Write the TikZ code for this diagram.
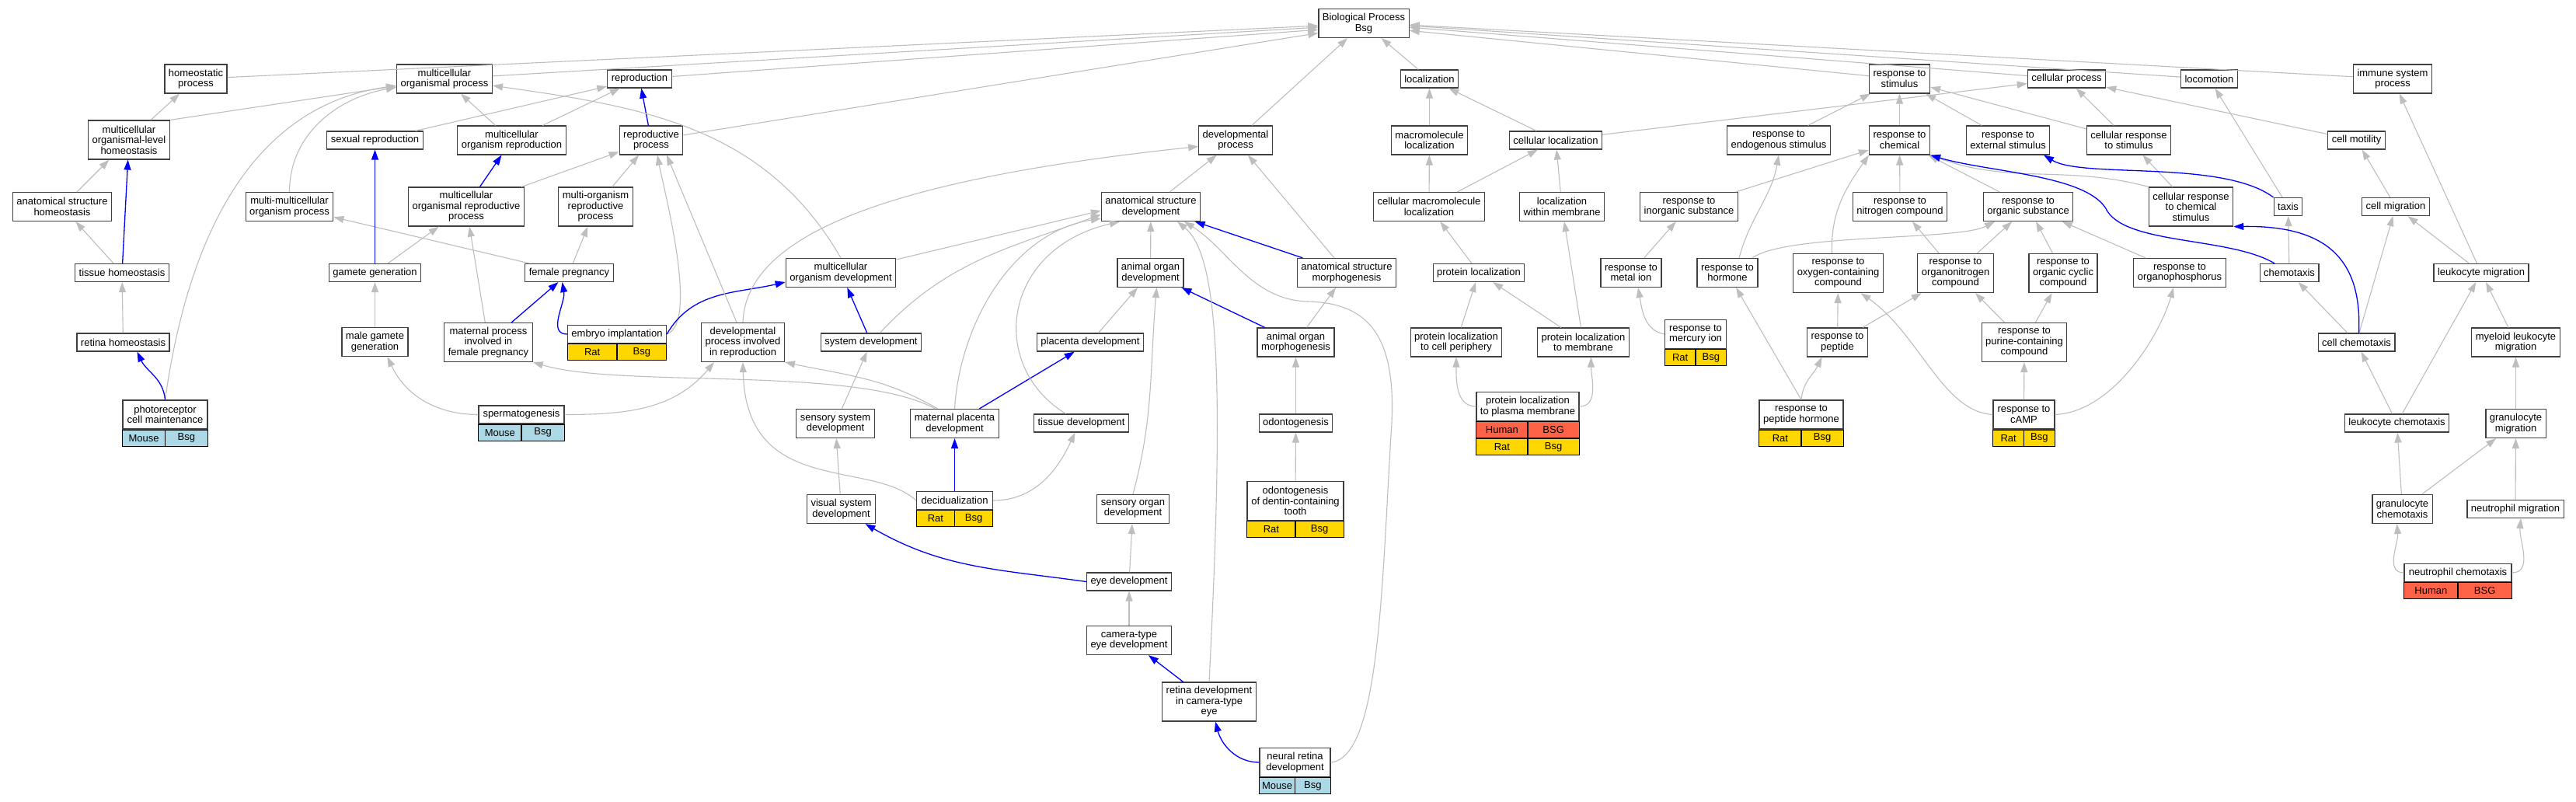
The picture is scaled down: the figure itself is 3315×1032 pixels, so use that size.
\documentclass[tikz,border=0pt]{standalone}
\usepackage{fontspec}
\setmainfont{Liberation Sans}
\usepackage{tikz}
\usetikzlibrary{arrows.meta}
\definecolor{edgegray}{RGB}{190,190,190}
\definecolor{boxgray}{RGB}{64,64,64}
\definecolor{mouseblue}{RGB}{173,216,230}
\definecolor{ratgold}{RGB}{255,215,0}
\definecolor{humanred}{RGB}{255,99,71}
\newcommand{\gofont}{\fontsize{13}{13.5}\selectfont}
% species/gene row under an annotated term
\newcommand{\spcells}[5]{%
  \node[cell, fill=#3, minimum width=#2/2, anchor=north west] (#1l) at (#1.south west) {#4};
  \node[cell, fill=#3, minimum width=#2/2, anchor=north east] (#1r) at (#1.south east) {#5};}

\begin{document}
\begin{tikzpicture}[x=1pt, y=-1pt,
  box/.style={draw=boxgray, line width=1.2pt, fill=white, align=center, inner xsep=5pt, inner ysep=2pt, minimum height=23pt, font=\gofont},
  two/.style={minimum height=37pt},
  three/.style={minimum height=50pt},
  cell/.style={draw=black, line width=1pt, minimum height=21pt, inner sep=0pt, font=\gofont},
  isa/.style={draw=edgegray, line width=1.1pt, -{Triangle[length=13pt,width=9pt]}},
  blueisa/.style={isa, draw=blue, line width=1.3pt}]
\path[use as bounding box, fill=white] (0,0) rectangle (3315,1032);
% Root
\node[box,two] (bp) at (1755,30) {Biological Process\\Bsg};
% Level 1
\node[box,two] (hp) at (252,101.5) {homeostatic\\process};
\node[box,two] (mop) at (572,101.5) {multicellular\\organismal process};
\node[box] (repro) at (823,101.5) {reproduction};
\node[box] (loc) at (1839.5,101.5) {localization};
\node[box,two] (rts) at (2444.5,101.5) {response to\\stimulus};
\node[box] (cp) at (2659.5,101.5) {cellular process};
\node[box] (locom) at (2843,101.5) {locomotion};
\node[box,two] (isp) at (3079,101.5) {immune system\\process};
% Level 2
\node[box,three] (molh) at (166,180) {multicellular\\organismal-level\\homeostasis};
\node[box] (sexrep) at (482.5,180.5) {sexual reproduction};
\node[box,two] (morep) at (658.5,180.5) {multicellular\\organism reproduction};
\node[box,two] (rp) at (838,180.5) {reproductive\\process};
\node[box,two] (dp) at (1590,180.5) {developmental\\process};
\node[box,two] (mloc) at (1839.5,180.5) {macromolecule\\localization};
\node[box] (cloc) at (2002,180.5) {cellular localization};
\node[box,two] (rendo) at (2289,180.5) {response to\\endogenous stimulus};
\node[box,two] (rchem) at (2444.5,180.5) {response to\\chemical};
\node[box,two] (rext) at (2584,180.5) {response to\\external stimulus};
\node[box,two] (crs) at (2739.5,180.5) {cellular response\\to stimulus};
\node[box] (cmot) at (3032.5,180.5) {cell motility};
% Level 3
\node[box,two] (ash) at (80,266) {anatomical structure\\homeostasis};
\node[box,two] (mmop) at (372.5,266) {multi-multicellular\\organism process};
\node[box,three] (morp) at (600,266) {multicellular\\organismal reproductive\\process};
\node[box,three] (mrp) at (766.5,266) {multi-organism\\reproductive\\process};
\node[box,two] (asd) at (1481,266) {anatomical structure\\development};
\node[box,two] (cmloc) at (1839,266) {cellular macromolecule\\localization};
\node[box,two] (lwm) at (2010,266) {localization\\within membrane};
\node[box,two] (ris) at (2173.5,266) {response to\\inorganic substance};
\node[box,two] (rnc) at (2445,266) {response to\\nitrogen compound};
\node[box,two] (ros) at (2610,266) {response to\\organic substance};
\node[box,three] (crcs) at (2819.5,266) {cellular response\\to chemical\\stimulus};
\node[box] (taxis) at (2944.5,266) {taxis};
\node[box] (cmig) at (3083,266) {cell migration};
% Level 4
\node[box] (th) at (157,351) {tissue homeostasis};
\node[box] (gg) at (482.5,351) {gamete generation};
\node[box] (fp) at (732.5,351) {female pregnancy};
\node[box,two] (mod) at (1082,351) {multicellular\\organism development};
\node[box,two] (aod) at (1480.5,351) {animal organ\\development};
\node[box,two] (asm) at (1733,351) {anatomical structure\\morphogenesis};
\node[box] (pl) at (1903,351) {protein localization};
\node[box,two] (rmi) at (2099,351) {response to\\metal ion};
\node[box,two] (rh) at (2223,351) {response to\\hormone};
\node[box,three] (roxy) at (2365.5,351.5) {response to\\oxygen-containing\\compound};
\node[box,three] (ronc) at (2516.5,351.5) {response to\\organonitrogen\\compound};
\node[box,three] (rocc) at (2655,351.5) {response to\\organic cyclic\\compound};
\node[box,two] (roph) at (2805,351) {response to\\organophosphorus};
\node[box] (chemo) at (2946,351) {chemotaxis};
\node[box] (lmig) at (3193,351) {leukocyte migration};
% Level 5
\node[box] (rhomeo) at (158.5,440.5) {retina homeostasis};
\node[box,two] (mgg) at (482.5,440) {male gamete\\generation};
\node[box,three] (mpfp) at (628.5,440.5) {maternal process\\involved in\\female pregnancy};
\node[box, minimum width=127] (emb) at (794,430) {embryo implantation};
\spcells{emb}{127}{ratgold}{Rat}{Bsg}
\node[box,three] (dpir) at (956,440.5) {developmental\\process involved\\in reproduction};
\node[box] (sd) at (1121,440.5) {system development};
\node[box] (pd) at (1403,440.5) {placenta development};
\node[box,two] (aom) at (1667.5,440.5) {animal organ\\morphogenesis};
\node[box,two] (ptcp) at (1874,440.5) {protein localization\\to cell periphery};
\node[box,two] (ptm) at (2037.5,440.5) {protein localization\\to membrane};
\node[box,two, minimum width=79] (rmerc) at (2182,430) {response to\\mercury ion};
\spcells{rmerc}{79}{ratgold}{Rat}{Bsg}
\node[box,two] (rpep) at (2364.5,440.5) {response to\\peptide};
\node[box,three] (rpur) at (2605,440.5) {response to\\purine-containing\\compound};
\node[box] (cc) at (3032.5,440.5) {cell chemotaxis};
\node[box,two] (mlm) at (3237.5,440.5) {myeloid leukocyte\\migration};
% Level 6
\node[box,two, minimum width=109] (prm) at (212.5,533.5) {photoreceptor\\cell maintenance};
\spcells{prm}{109}{mouseblue}{Mouse}{Bsg}
\node[box, minimum width=110] (sperm) at (671,533.5) {spermatogenesis};
\spcells{sperm}{110}{mouseblue}{Mouse}{Bsg}
\node[box,two] (ssd) at (1075,545) {sensory system\\development};
\node[box,two] (mpd) at (1228.5,545) {maternal placenta\\development};
\node[box] (td) at (1391.5,544.5) {tissue development};
\node[box] (odonto) at (1667.5,544.5) {odontogenesis};
\node[box,two, minimum width=132] (plpm) at (1966,523) {protein localization\\to plasma membrane};
\spcells{plpm}{132}{humanred}{Human}{BSG}
\node[cell, fill=ratgold, minimum width=66, anchor=north west] (plpmrat) at (plpml.south west) {Rat};
\node[cell, fill=ratgold, minimum width=66, anchor=north east] (plpmbsg) at (plpmr.south east) {Bsg};
\node[box,two, minimum width=108] (rph) at (2318,533.5) {response to\\peptide hormone};
\spcells{rph}{108}{ratgold}{Rat}{Bsg}
\node[box,two, minimum width=79] (camp) at (2604.5,533.5) {response to\\cAMP};
\spcells{camp}{79}{ratgold}{Rat}{Bsg}
\node[box] (lchem) at (3084.5,544.5) {leukocyte chemotaxis};
\node[box,two] (gmig) at (3237.5,545) {granulocyte\\migration};
% Level 7 and below
\node[box,two] (vsd) at (1082.5,655) {visual system\\development};
\node[box, minimum width=98] (decid) at (1228.5,644) {decidualization};
\spcells{decid}{98}{ratgold}{Rat}{Bsg}
\node[box,two] (sod) at (1458,655) {sensory organ\\development};
\node[box,three, minimum width=124] (odt) at (1667,644.5) {odontogenesis\\of dentin-containing\\tooth};
\spcells{odt}{124}{ratgold}{Rat}{Bsg}
\node[box,two] (gchem) at (3091.5,655) {granulocyte\\chemotaxis};
\node[box] (nmig) at (3237,655) {neutrophil migration};
\node[box, minimum width=138] (nchem) at (3163,737) {neutrophil chemotaxis};
\spcells{nchem}{138}{humanred}{Human}{BSG}
\node[box] (eye) at (1453,748.5) {eye development};
\node[box,two] (cam) at (1453,824) {camera-type\\eye development};
\node[box,three] (rdev) at (1556,903) {retina development\\in camera-type\\eye};
\node[box,two, minimum width=91] (nrd) at (1666.5,981) {neural retina\\development};
\spcells{nrd}{91}{mouseblue}{Mouse}{Bsg}

% Straight is_a links
\foreach \ch/\pa in {hp/bp.183, mop/bp.185, repro/bp.188, rp/bp.192, dp/bp, loc/bp,
    rts/bp.351, cp/bp.355, locom/bp.357, isp/bp.358, molh/hp, sexrep/repro, morep/repro,
    morep/mop, ash/molh, th/ash, rhomeo/th, morp/rp, mrp/rp, gg/morp, mpfp/morp, fp/mmop,
    fp/mrp, mgg/gg, aod/asd, asd/dp, asm/dp, ssd/sd, vsd/ssd, eye/sod, cam/eye, pd/aod,
    aom/asm, odonto/aom, odt/odonto, mloc/loc, cloc/loc, cmloc/mloc, cmloc/cloc, lwm/cloc,
    cloc/cp, pl/cmloc, ptcp/pl, ptm/pl, ptm/lwm, rendo/rts, rchem/rts, rext/rts, crs/rts,
    crs/cp, ris/rchem, rnc/rchem, ros/rchem, crcs/crs, taxis/locom, cmot/cp, cmig/cmot,
    lmig/isp, cc/cmig, lmig/cmig, chemo/taxis, cc/chemo, lchem/cc, lchem/lmig, mlm/lmig,
    gmig/mlm, gchem/lchem, gchem/gmig, nmig/gmig, ronc/ros, ronc/rnc, rocc/ros, roph/ros,
    rmi/ris, rpep/roxy, rpep/ronc, rpur/ronc, rpur/rocc, camp/rpur}
  \draw[isa] (\ch) -- (\pa);
% Straight links on the highlighted path
\foreach \ch/\pa in {rp/repro, th/molh, gg/sexrep, morp/morep, mpfp/fp, sd/mod, asm/asd,
    aom/aod, mpd/pd, decid/mpd, rdev/cam}
  \draw[blueisa] (\ch) -- (\pa);

% Curved links, left part
\draw[isa] (molh.north east) -- (mop);
\draw[isa] (mmop.north) to[out=90,in=190] (mop);
\draw[isa] (prm.north) to[out=82,in=188] (mop);
\draw[blueisa] (prm.north) to[out=95,in=-65] ([xshift=18]rhomeo.south);
\draw[isa] (mod.north) to[out=120,in=-8] (mop);
\draw[blueisa] (emb.west) to[out=180,in=-80] ([xshift=-9]fp.south);
\draw[isa] (emb.east) .. controls (900,415) and (854,243) .. ([xshift=8]rp.south);
\draw[blueisa] (emb.east) to[out=60,in=193] ([yshift=-12]mod.west);
\draw[isa] (sperm.west) to[out=180,in=-65] ([xshift=16]mgg.south);
\draw[isa] (sperm.east) to[out=0,in=-130] ([xshift=-37]dpir.south);
\draw[isa] (dpir.north) .. controls (960,300) and (1150,230) .. ([yshift=-8]dp.west);
\draw[isa] ([xshift=-8]dpir.north) -- ([xshift=20]rp.south);
\draw[isa] ([xshift=-25]mpd.north) .. controls (1100,470) and (800,500) .. (mpfp.south east);
\draw[isa] ([xshift=-22]mpd.north) to[out=150,in=-12] (dpir.south east);
\draw[isa] (decid.west) .. controls (1120,590) and (960,640) .. (dpir.south);
\draw[isa] (decid.east) to[out=0,in=-115] ([xshift=-8]td.south);
% Curved links into anatomical structure development
\draw[isa] (mod) -- ([yshift=-5]asd.west);
\draw[isa] (sd) to[out=47,in=200] ([yshift=-10]asd.west);
\draw[isa] (mpd.north) .. controls (1235,420) and (1300,300) .. ([yshift=-15]asd.west);
\draw[isa] ([xshift=-20]td.north) .. controls (1270,470) and (1290,320) .. ([xshift=-40]asd.south);
\draw[isa] (rdev.north) .. controls (1575,500) and (1570,330) .. ([xshift=34]asd.south);
\draw[isa] (nrd.east) .. controls (1775,975) and (1778,760) .. (1790,560)
  .. controls (1800,430) and (1760,390) .. (1683,388)
  .. controls (1610,386) and (1580,320) .. ([xshift=43]asd.south);
\draw[blueisa] (eye.west) to[out=172,in=-30] ([xshift=31]vsd.south);
\draw[blueisa] (nrd.west) to[out=180,in=-75] ([xshift=8]rdev.south);
\draw[isa] (sod.north) to[out=75,in=-95] ([xshift=8]aod.south);
% Localization
\draw[isa] (plpm.west) to[out=180,in=-90] (ptcp.south);
\draw[isa] (plpm.east) to[out=0,in=-90] ([xshift=10]ptm.south);
% Response to stimulus
\draw[isa] ([xshift=15]rh.north) to[out=75,in=-100] (rendo.south);
\draw[isa] ([xshift=-8]roxy.north) to[out=92,in=-125] (rchem.south west);
\draw[isa] (crcs.north west) to[out=165,in=-20] (rchem.south east);
\draw[blueisa] ([xshift=-19]chemo.north) .. controls (2870,305) and (2740,315) .. (2712,272)
  .. controls (2690,225) and (2560,222) .. (rchem.south east);
\draw[blueisa] (taxis.north west) .. controls (2860,205) and (2680,230) .. ([xshift=46]rext.south);
\draw[blueisa] ([xshift=3]cc.north) .. controls (3040,330) and (2990,290) .. (crcs.south east);
\draw[isa] (nchem.west) to[out=180,in=-85] ([xshift=-7]gchem.south);
\draw[isa] (nchem.east) to[out=0,in=-95] ([xshift=7]nmig.south);
\draw[isa] ([xshift=32]rh.north) .. controls (2300,300) and (2520,310) .. ([xshift=-43]ros.south);
\draw[isa] (rmerc.west) to[out=170,in=-80] ([xshift=9]rmi.south);
\draw[isa] (rph.north) -- (rh);
\draw[isa] (rph.north) to[out=85,in=-115] ([xshift=-20]rpep.south);
\draw[isa] (camp.west) .. controls (2500,530) and (2470,430) .. ([xshift=29]roxy.south);
\draw[isa] (camp.east) .. controls (2720,530) and (2780,430) .. ([xshift=-8]roph.south);
\end{tikzpicture}
\end{document}
